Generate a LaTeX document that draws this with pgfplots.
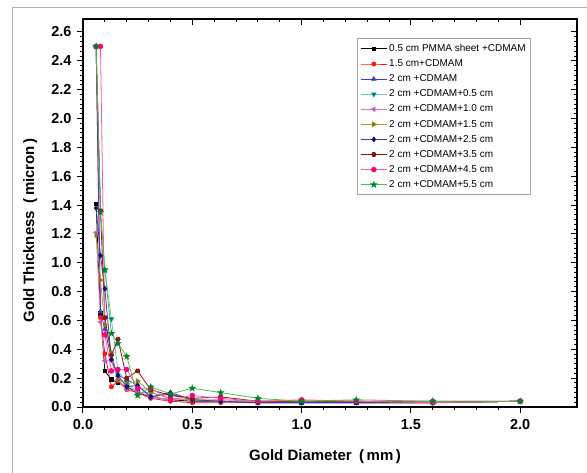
\documentclass[border=0pt]{standalone}
\usepackage{fontspec}
\setmainfont{Liberation Sans}
\usepackage{pgfplots}
\pgfplotsset{compat=1.18}
\usetikzlibrary{plotmarks}

\pgfdeclareplotmark{hexagon*}{%
  \pgfpathmoveto{\pgfpointpolar{0}{1.1\pgfplotmarksize}}%
  \pgfpathlineto{\pgfpointpolar{60}{1.1\pgfplotmarksize}}%
  \pgfpathlineto{\pgfpointpolar{120}{1.1\pgfplotmarksize}}%
  \pgfpathlineto{\pgfpointpolar{180}{1.1\pgfplotmarksize}}%
  \pgfpathlineto{\pgfpointpolar{240}{1.1\pgfplotmarksize}}%
  \pgfpathlineto{\pgfpointpolar{300}{1.1\pgfplotmarksize}}%
  \pgfpathclose\pgfusepathqfillstroke}
\pgfdeclareplotmark{fstar}{%
  \pgfpathmoveto{\pgfpointpolar{90}{1.4\pgfplotmarksize}}%
  \pgfpathlineto{\pgfpointpolar{126}{0.55\pgfplotmarksize}}%
  \pgfpathlineto{\pgfpointpolar{162}{1.4\pgfplotmarksize}}%
  \pgfpathlineto{\pgfpointpolar{198}{0.55\pgfplotmarksize}}%
  \pgfpathlineto{\pgfpointpolar{234}{1.4\pgfplotmarksize}}%
  \pgfpathlineto{\pgfpointpolar{270}{0.55\pgfplotmarksize}}%
  \pgfpathlineto{\pgfpointpolar{306}{1.4\pgfplotmarksize}}%
  \pgfpathlineto{\pgfpointpolar{342}{0.55\pgfplotmarksize}}%
  \pgfpathlineto{\pgfpointpolar{18}{1.4\pgfplotmarksize}}%
  \pgfpathlineto{\pgfpointpolar{54}{0.55\pgfplotmarksize}}%
  \pgfpathclose\pgfusepathqfillstroke}

\definecolor{cred}{RGB}{255,20,20}
\definecolor{cblue}{RGB}{60,60,200}
\definecolor{ctealL}{RGB}{110,195,195}
\definecolor{cteal}{RGB}{0,128,128}
\definecolor{cvioL}{RGB}{215,120,205}
\definecolor{cvio}{RGB}{200,90,190}
\definecolor{colL}{RGB}{160,160,50}
\definecolor{col}{RGB}{128,128,0}
\definecolor{cnavyL}{RGB}{60,60,175}
\definecolor{cnavy}{RGB}{20,20,128}
\definecolor{cdred}{RGB}{140,20,20}
\definecolor{cpinkL}{RGB}{255,90,165}
\definecolor{cpink}{RGB}{250,0,130}
\definecolor{cgreenL}{RGB}{80,185,80}
\definecolor{cgreen}{RGB}{0,130,40}

\begin{document}
\begin{tikzpicture}[x=1pt,y=1pt]
\useasboundingbox (-83,-65) rectangle (504,407);
\draw[gray!60, line width=1pt] (-70,-66) -- (-70,399) -- (505,399);
\begin{axis}[
  at={(0,0)}, anchor=south west,
  width=494pt, height=388pt, scale only axis,
  xmin=0, xmax=2.26, ymin=0, ymax=2.69,
  xtick={0,0.5,1.0,1.5,2.0},
  ytick={0,0.2,0.4,0.6,0.8,1.0,1.2,1.4,1.6,1.8,2.0,2.2,2.4,2.6},
  minor x tick num=4, minor y tick num=5,
  xtick pos=left, ytick pos=left, tick align=outside,
  major tick length=6pt, minor tick length=3pt,
  every tick/.style={black, line width=1pt},
  axis line style={line width=1.3pt},
  /pgf/number format/assume math mode=true,
  /pgf/number format/fixed, /pgf/number format/fixed zerofill, /pgf/number format/precision=1,
  xticklabel style={font=\fontsize{14.5}{16}\selectfont\bfseries, yshift=-3pt},
  yticklabel style={font=\fontsize{14.5}{16}\selectfont\bfseries, xshift=-2pt},
  xlabel={Gold Diameter\enspace(\,mm\,)},
  ylabel={Gold Thickness\enspace(\,micron\,)},
  xlabel style={at={(axis description cs:0.49,-0.129)}, anchor=center, font=\fontsize{15}{17}\selectfont\bfseries},
  ylabel style={at={(axis description cs:-0.107,0.455)}, anchor=center, rotate=0, font=\fontsize{15}{17}\selectfont\bfseries},
  legend style={at={(0.907,0.951)}, anchor=north east, draw=gray!70, line width=0.8pt,
    font=\fontsize{10}{11}\selectfont, row sep=2.6pt, inner xsep=3pt, inner ysep=4pt},
  legend cell align=left,
  legend image code/.code={\draw[mark repeat=2,mark phase=2,#1] plot coordinates {(0pt,0pt) (13pt,0pt) (26pt,0pt)};},
  every axis plot/.append style={line width=0.8pt},
]
\addplot[black, mark=square*, mark size=1.7pt, mark options={fill=black}] coordinates {
(0.06,1.41)(0.08,0.65)(0.10,0.25)(0.13,0.19)(0.16,0.17)(0.20,0.14)(0.25,0.10)(0.31,0.07)
(0.40,0.05)(0.50,0.04)(0.63,0.04)(0.80,0.03)(1.00,0.03)(1.25,0.03)(1.60,0.03)(2.00,0.04)};
\addlegendentry{0.5 cm PMMA sheet +CDMAM}
\addplot[cred, mark=*, mark size=2pt, mark options={fill=cred, draw=cred}] coordinates {
(0.06,2.50)(0.08,0.62)(0.10,0.37)(0.13,0.14)(0.16,0.18)(0.20,0.12)(0.25,0.10)(0.31,0.06)
(0.40,0.04)(0.50,0.03)(0.63,0.03)(0.80,0.03)(1.00,0.04)(1.25,0.03)(1.60,0.03)(2.00,0.04)};
\addlegendentry{1.5 cm+CDMAM}
\addplot[cblue, mark=triangle*, mark size=2.4pt, mark options={fill=cblue, draw=cblue}] coordinates {
(0.06,2.50)(0.08,0.66)(0.10,0.54)(0.13,0.33)(0.16,0.22)(0.20,0.19)(0.25,0.15)(0.31,0.07)
(0.40,0.09)(0.50,0.05)(0.63,0.04)(0.80,0.03)(1.00,0.03)(1.25,0.03)(1.60,0.03)(2.00,0.04)};
\addlegendentry{2 cm +CDMAM}
\addplot[ctealL, mark=triangle*, mark size=2.4pt, mark options={rotate=180, fill=cteal, draw=cteal}] coordinates {
(0.06,2.50)(0.08,1.36)(0.10,0.95)(0.13,0.61)(0.16,0.25)(0.20,0.17)(0.25,0.10)(0.31,0.10)
(0.40,0.06)(0.50,0.05)(0.63,0.04)(0.80,0.04)(1.00,0.04)(1.25,0.04)(1.60,0.03)(2.00,0.04)};
\addlegendentry{2 cm +CDMAM+0.5 cm}
\addplot[cvioL, mark=triangle*, mark size=2.4pt, mark options={rotate=90, fill=cvio, draw=cvio}] coordinates {
(0.06,1.21)(0.08,0.59)(0.10,0.32)(0.13,0.32)(0.16,0.19)(0.20,0.12)(0.25,0.11)(0.31,0.07)
(0.40,0.05)(0.50,0.05)(0.63,0.05)(0.80,0.04)(1.00,0.04)(1.25,0.04)(1.60,0.03)(2.00,0.04)};
\addlegendentry{2 cm +CDMAM+1.0 cm}
\addplot[colL, mark=triangle*, mark size=2.4pt, mark options={rotate=-90, fill=col, draw=col}] coordinates {
(0.06,1.19)(0.08,0.88)(0.10,0.57)(0.13,0.38)(0.16,0.19)(0.20,0.16)(0.25,0.18)(0.31,0.10)
(0.40,0.06)(0.50,0.05)(0.63,0.04)(0.80,0.04)(1.00,0.04)(1.25,0.04)(1.60,0.03)(2.00,0.04)};
\addlegendentry{2 cm +CDMAM+1.5 cm}
\addplot[cnavyL, mark=diamond*, mark size=2.4pt, mark options={fill=cnavy, draw=cnavy}] coordinates {
(0.06,1.38)(0.08,1.05)(0.10,0.82)(0.13,0.33)(0.16,0.22)(0.20,0.14)(0.25,0.15)(0.31,0.07)
(0.40,0.10)(0.50,0.05)(0.63,0.04)(0.80,0.03)(1.00,0.03)(1.25,0.03)(1.60,0.03)(2.00,0.04)};
\addlegendentry{2 cm +CDMAM+2.5 cm}
\addplot[cdred, mark=hexagon*, mark size=2pt, mark options={fill=cdred, draw=cdred}] coordinates {
(0.06,2.50)(0.08,1.36)(0.10,0.62)(0.13,0.36)(0.16,0.47)(0.20,0.20)(0.25,0.25)(0.31,0.12)
(0.40,0.08)(0.50,0.06)(0.63,0.07)(0.80,0.04)(1.00,0.04)(1.25,0.04)(1.60,0.04)(2.00,0.04)};
\addlegendentry{2 cm +CDMAM+3.5 cm}
\addplot[cpinkL, mark=*, mark size=2.3pt, mark options={fill=cpink, draw=cpink}] coordinates {
(0.06,2.50)(0.08,2.50)(0.10,0.50)(0.13,0.25)(0.16,0.26)(0.20,0.26)(0.25,0.13)(0.31,0.13)
(0.40,0.05)(0.50,0.08)(0.63,0.06)(0.80,0.04)(1.00,0.05)(1.25,0.04)(1.60,0.03)(2.00,0.04)};
\addlegendentry{2 cm +CDMAM+4.5 cm}
\addplot[cgreenL, mark=fstar, mark size=2pt, mark options={fill=cgreen, draw=cgreen}] coordinates {
(0.06,2.50)(0.08,1.35)(0.10,0.95)(0.13,0.51)(0.16,0.44)(0.20,0.35)(0.25,0.08)(0.31,0.14)
(0.40,0.09)(0.50,0.13)(0.63,0.10)(0.80,0.06)(1.00,0.04)(1.25,0.05)(1.60,0.04)(2.00,0.04)};
\addlegendentry{2 cm +CDMAM+5.5 cm}
\end{axis}
\begin{axis}[
  at={(0,0)}, anchor=south west,
  width=494pt, height=388pt, scale only axis,
  xmin=0, xmax=2.26, ymin=0, ymax=2.69,
  xtick={0,0.5,1.0,1.5,2.0},
  ytick={0,0.2,0.4,0.6,0.8,1.0,1.2,1.4,1.6,1.8,2.0,2.2,2.4,2.6},
  minor x tick num=4, minor y tick num=5,
  xtick pos=right, ytick pos=right, tick align=inside,
  major tick length=6pt, minor tick length=3pt,
  every tick/.style={black, line width=1pt},
  axis line style={line width=1.3pt},
  xticklabels={}, yticklabels={},
]
\end{axis}
\end{tikzpicture}
\end{document}
